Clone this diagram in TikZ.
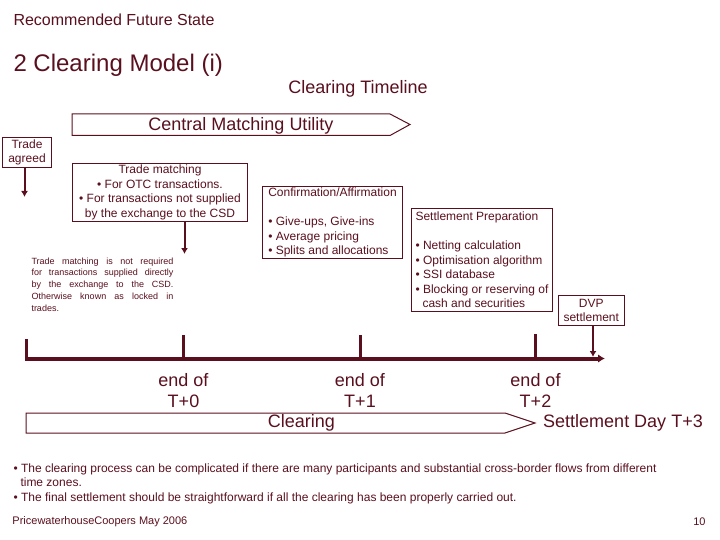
\documentclass[tikz,border=0pt]{standalone}
\usepackage{fontspec}
\setmainfont{Liberation Sans}
\usepackage{xcolor}
\usetikzlibrary{arrows.meta}
\definecolor{maroon}{HTML}{5A0F1E}
\newcommand{\tsize}[2]{\fontsize{#1}{#2}\selectfont}
\newcommand{\spreadline}[1]{\makebox[142pt][s]{#1}}
\begin{document}
\begin{tikzpicture}
            [x=1pt,y=-1pt,line width=1pt,draw=maroon,text=maroon,
             box/.style={draw,rectangle,inner sep=0pt,anchor=north west,font=\tsize{12}{14.5}},
             label/.style={inner sep=0pt,font=\tsize{18}{21},align=center},
             flow/.style={line width=2pt,-{Latex[length=6pt,width=7pt]}},
             axis/.style={line width=4pt,-{Latex[length=7pt,width=8.5pt]}},
             tick/.style={line width=3pt}]
            \useasboundingbox (0, 0) rectangle (720, 540);
            % headings
            \node (state) [inner sep=0pt,anchor=west,font=\tsize{16}{18}] at (13, 20) {Recommended Future State};
            \node (model) [inner sep=0pt,anchor=west,font=\tsize{24}{28}] at (13, 65) {2 Clearing Model (i)};
            \node (timeline) [label] at (358, 89) {Clearing Timeline};
            % banners
            \draw (72, 114) -- (390, 114) -- (410, 124.5) -- (390, 135.5) -- (72, 135.5) -- cycle;
            \node (utility) [label] at (241, 126) {Central Matching Utility};
            \draw (26, 413) -- (505, 413) -- (535, 423) -- (505, 433) -- (26, 433) -- cycle;
            \node (clearing) [label] at (301.5, 423) {Clearing};
            \node (dayT3) [label] at (623, 423) {Settlement Day T+3};
            % boxes
            \node (agreed) [box,minimum width=49pt,minimum height=30pt,align=center] at (2, 137) {Trade\\agreed};
            \node (matching) [box,minimum width=175pt,minimum height=58pt,align=center] at (72, 163)
                {Trade matching\\• For OTC transactions.\\• For transactions not supplied\\by the exchange to the CSD};
            \node (confirm) [box,minimum width=140pt,minimum height=72pt,align=left,inner xsep=5pt,yshift=-1pt] at (262, 185)
                {Confirmation/Affirmation\\[14.5pt]• Give-ups, Give-ins\\• Average pricing\\• Splits and allocations};
            \node (prep) [box,minimum width=141.5pt,minimum height=102.5pt,align=left,inner xsep=4.5pt] at (410.5, 208)
                {Settlement Preparation\\[14.5pt]• Netting calculation\\• Optimisation algorithm\\• SSI database\\• Blocking or reserving of\\\hspace*{7pt}cash and securities};
            \node (dvp) [box,minimum width=66.5pt,minimum height=29.5pt,align=center] at (557.5, 295) {DVP\\settlement};
            \node (note) [inner sep=0pt,anchor=north west,align=left,font=\tsize{9}{11.8}] at (31, 257)
                {\spreadline{Trade matching is not required}\\\spreadline{for transactions supplied directly}\\\spreadline{by the exchange to the CSD.}\\\spreadline{Otherwise known as locked in}\\trades.};
            % arrows out of the boxes
            \coordinate (agreedend) at (24.5, 197);
            \coordinate (matchingend) at (184.5, 254);
            \coordinate (dvpend) at (593, 357);
            \draw [flow] (agreedend |- agreed.south) -- (agreedend);
            \draw [flow] (matchingend |- matching.south) -- (matchingend);
            \draw [flow] (dvpend |- dvp.south) -- (dvpend);
            % time line
            \coordinate (start) at (26.5, 358.5);
            \coordinate (stop) at (605, 358.5);
            \coordinate (t0) at (183.5, 358.5);
            \coordinate (t1) at (360, 358.5);
            \coordinate (t2) at (535.5, 358.5);
            \draw [axis] (start) -- (stop);
            \draw [tick] ([yshift=-2pt]start) -- +(0, -22);
            \draw [tick] (t0) -- +(0, -23.5);
            \draw [tick] (t1) -- +(0, -23.5);
            \draw [tick] (t2) -- +(0, -24.5);
            \node (endT0) [label,anchor=north] at (183.5, 373) {end of\\T+0};
            \node (endT1) [label,anchor=north] at (360, 373) {end of\\T+1};
            \node (endT2) [label,anchor=north] at (535.5, 373) {end of\\T+2};
            % notes at the foot
            \node (points) [inner sep=0pt,anchor=north west,align=left,font=\tsize{12}{14.5}] at (13, 463)
                {• The clearing process can be complicated if there are many participants and substantial cross-border flows from different\\\hspace*{7pt}time zones.\\• The final settlement should be straightforward if all the clearing has been properly carried out.};
            \node (firm) [inner sep=0pt,anchor=west,font=\tsize{11}{13}] at (12, 522) {PricewaterhouseCoopers May 2006};
            \node (page) [inner sep=0pt,anchor=east,font=\tsize{11}{13}] at (706, 522) {10};
        \end{tikzpicture}
\end{document}
